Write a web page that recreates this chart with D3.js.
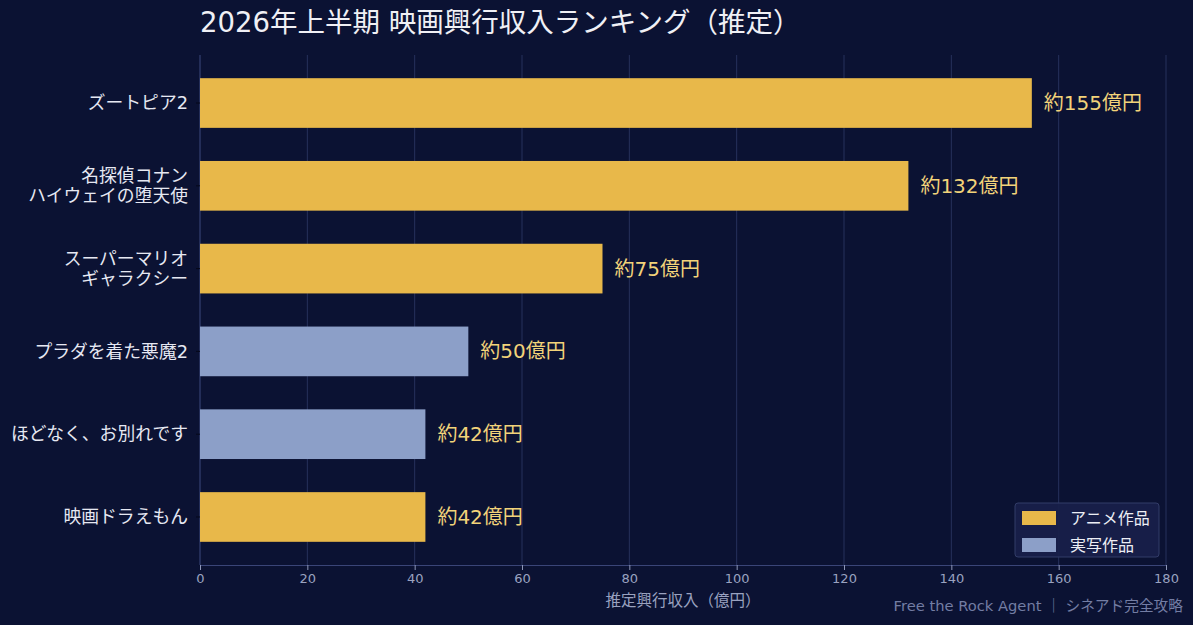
<!DOCTYPE html>
<html>
<head>
<meta charset="utf-8">
<script src="https://cdn.jsdelivr.net/npm/d3@7"></script>
<style>
  body { margin: 0; background: #0b1233; }
  text { font-family: "DejaVu Sans", "Noto Sans CJK JP", sans-serif; }
</style>
</head>
<body>
<div id="chart"></div>
<script>
'use strict';

const titles = ['ズートピア2', '名探偵コナン\nハイウェイの堕天使', 'スーパーマリオ\nギャラクシー',
  'プラダを着た悪魔2', 'ほどなく、お別れです', '映画ドラえもん'];
const revenue = [155, 132, 75, 50, 42, 42];
const kinds = ['アニメ作品', 'アニメ作品', 'アニメ作品', '実写作品', '実写作品', 'アニメ作品'];
const xTicks = [0, 20, 40, 60, 80, 100, 120, 140, 160, 180];
const legendItems = ['アニメ作品', '実写作品'];

var width = 1193;
var height = 625;
var margin = { top: 55, right: 27, bottom: 60, left: 200 };
var colour = d3.scaleOrdinal().domain(legendItems).range(['#e8b84a', '#8c9fc8']);

var svg = d3.select('#chart')
  .append('svg')
  .attr('width', width)
  .attr('height', height)
  .style('background', '#0b1233');

var x = d3.scaleLinear()
  .domain([0, 180])
  .range([margin.left, width - margin.right]);

var y = d3.scaleBand()
  .domain(titles)
  .range([margin.top, height - margin.bottom])
  .paddingInner(0.4)
  .paddingOuter(0.28);

// vertical grid
svg.append('g')
  .selectAll('line')
  .data(xTicks)
  .enter()
  .append('line')
  .attr('x1', d => x(d)).attr('x2', d => x(d))
  .attr('y1', margin.top).attr('y2', height - margin.bottom)
  .attr('stroke', '#27315c')
  .attr('stroke-width', 1);

// left spine
svg.append('line')
  .attr('x1', x(0)).attr('x2', x(0))
  .attr('y1', margin.top).attr('y2', height - margin.bottom)
  .attr('stroke', '#2e3a6a');

// bars
svg.append('g')
  .selectAll('rect')
  .data(titles)
  .enter()
  .append('rect')
  .attr('x', x(0))
  .attr('y', d => y(d))
  .attr('width', (d, i) => x(revenue[i]) - x(0))
  .attr('height', y.bandwidth())
  .attr('fill', (d, i) => colour(kinds[i]));

// value labels
svg.append('g')
  .selectAll('text')
  .data(titles)
  .enter()
  .append('text')
  .attr('x', (d, i) => x(revenue[i]) + 12)
  .attr('y', d => y(d) + y.bandwidth() / 2)
  .attr('dy', '0.35em')
  .attr('fill', '#f2d37a')
  .attr('font-size', 20)
  .text((d, i) => '約' + revenue[i] + '億円');

// y labels, one text per line
titles.forEach(function(d) {
  var lines = d.split('\n');
  var cy = y(d) + y.bandwidth() / 2;
  var lh = 20;
  lines.forEach(function(l, j) {
    svg.append('text')
      .attr('x', 188)
      .attr('y', cy + (j - (lines.length - 1) / 2) * lh)
      .attr('dy', '0.35em')
      .attr('text-anchor', 'end')
      .attr('fill', '#e6e8f2')
      .attr('font-size', 17.8)
      .text(l);
  });
});

// y tick marks
svg.append('g')
  .selectAll('line')
  .data(titles)
  .enter()
  .append('line')
  .attr('x1', x(0) - 4).attr('x2', x(0))
  .attr('y1', d => y(d) + y.bandwidth() / 2)
  .attr('y2', d => y(d) + y.bandwidth() / 2)
  .attr('stroke', '#05081a');

// x axis
var xAxis = svg.append('g')
  .attr('transform', 'translate(0,' + (height - margin.bottom) + ')')
  .call(d3.axisBottom(x).tickValues(xTicks).tickSize(5).tickPadding(4));
xAxis.select('.domain').attr('stroke', '#3a4578');
xAxis.selectAll('.tick line').attr('stroke', '#8e97b8');
xAxis.selectAll('.tick text')
  .attr('fill', '#9aa2c0')
  .attr('font-size', 13)
  .style('font-family', '"DejaVu Sans", "Noto Sans CJK JP", sans-serif');

svg.append('text')
  .attr('x', (x(0) + x(180)) / 2)
  .attr('y', 606)
  .attr('text-anchor', 'middle')
  .attr('fill', '#9aa2c0')
  .attr('font-size', 15.5)
  .text('推定興行収入（億円）');

// title
svg.append('text')
  .attr('x', 200)
  .attr('y', 32)
  .attr('fill', '#f0f0f5')
  .attr('font-size', 27.5)
  .text('2026年上半期 映画興行収入ランキング（推定）');

// footer
svg.append('text')
  .attr('x', 1183)
  .attr('y', 611)
  .attr('text-anchor', 'end')
  .attr('fill', '#737da3')
  .attr('font-size', 14.7)
  .text('Free the Rock Agent ｜ シネアド完全攻略');

// legend
var lg = svg.append('g').attr('transform', 'translate(1015,503)');
lg.append('rect')
  .attr('width', 144).attr('height', 54)
  .attr('rx', 3)
  .attr('fill', '#18204a')
  .attr('fill-opacity', 0.95)
  .attr('stroke', '#323c68');
var li = lg.selectAll('g.item')
  .data(legendItems)
  .enter()
  .append('g')
  .attr('class', 'item')
  .attr('transform', (d, i) => 'translate(7,' + (8 + i * 27) + ')');
li.append('rect')
  .attr('width', 34).attr('height', 14)
  .attr('fill', d => colour(d));
li.append('text')
  .attr('x', 48)
  .attr('y', 7)
  .attr('dy', '0.35em')
  .attr('fill', '#eceef5')
  .attr('font-size', 16)
  .text(d => d);
</script>
</body>
</html>
